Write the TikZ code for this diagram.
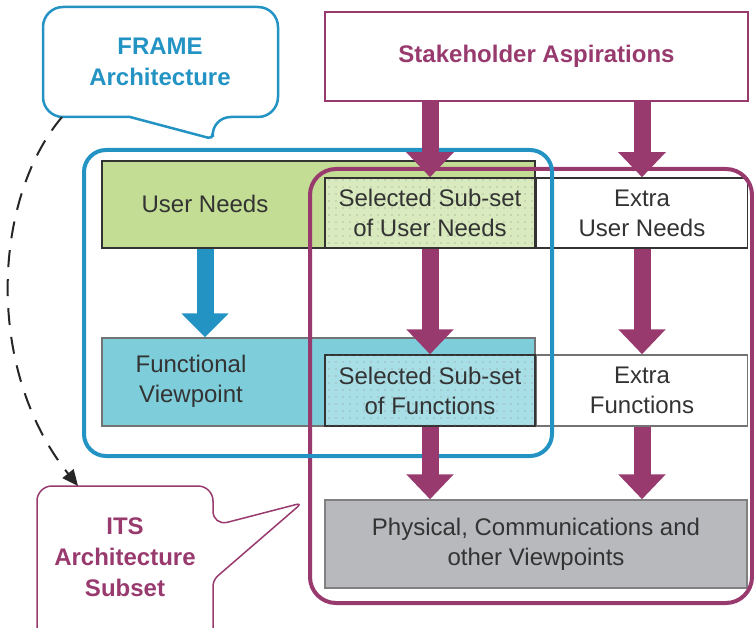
\documentclass[tikz,border=0pt]{standalone}
\usepackage{fontspec}
\setmainfont{Liberation Sans}
\usetikzlibrary{calc,positioning,arrows.meta,patterns.meta}
\definecolor{itsmag}{RGB}{152,58,110}
\definecolor{frameblue}{RGB}{35,147,196}
\definecolor{needgreen}{RGB}{195,221,148}
\definecolor{selgreen}{RGB}{216,234,190}
\definecolor{funcyan}{RGB}{126,205,218}
\definecolor{selcyan}{RGB}{168,222,230}
\definecolor{physgray}{RGB}{184,185,189}
\definecolor{txtgray}{RGB}{51,51,51}
\newcommand{\bigdown}[2]{\draw[magarrow] (#1) -- (#2)}

\tikzset{
  box/.style={rectangle, inner sep=0pt, draw=txtgray, line width=1.5pt, text=txtgray,
    font=\fontsize{24}{30}\selectfont, align=center},
  selbox/.style={box, postaction={pattern={Dots[distance=7pt,radius=0.55pt]}, pattern color=black!45}},
  boxtext/.style={text=txtgray, font=\fontsize{24}{30}\selectfont, align=center},
  calltext/.style={font=\bfseries\fontsize{24}{31}\selectfont, align=center},
  magarrow/.style={itsmag, line width=17pt, -{Triangle[width=46pt,length=25pt]}},
  bluearrow/.style={frameblue, line width=17pt, -{Triangle[width=46pt,length=24pt]}},
  dasharrow/.style={black!85, line width=2pt, dash pattern=on 17pt off 12pt,
    -{Triangle[length=16pt,width=14pt]}}
}

\begin{document}
\begin{tikzpicture}[x=1pt, y=-1pt]
  \useasboundingbox (0,0) rectangle (754,628);
  \clip (0,0) rectangle (754,628);

  \node[box, draw=itsmag, line width=1.5pt, text=itsmag, font=\bfseries\fontsize{24}{30}\selectfont,
    minimum width=423pt, minimum height=89pt] (stake) at (536.5,56.5) {Stakeholder Aspirations};

  \node[box, fill=needgreen, minimum width=433pt, minimum height=87pt] (usr) at (318.5,204.5) {};
  \node[boxtext] (usrtxt) at (205,204) {User Needs};
  \node[selbox, fill=selgreen, minimum width=210pt, minimum height=70pt] (sel1) at (430,213)
    {Selected Sub-set\\of User Needs};
  \node[box, fill=white, minimum width=211pt, minimum height=70pt, right=0pt of sel1] (ext1)
    {Extra\\User Needs};

  \node[box, fill=funcyan, draw=black!55, minimum width=433pt, minimum height=88pt] (fun) at (318.5,382) {};
  \node[boxtext] (funtxt) at (191,381) {Functional\\Viewpoint};
  \node[selbox, fill=selcyan, minimum width=210pt, minimum height=71pt] (sel2) at (430,390.5)
    {Selected Sub-set\\of Functions};
  \node[box, fill=white, draw=black!55, minimum width=211pt, minimum height=71pt, right=0pt of sel2] (ext2)
    {Extra\\Functions};

  \node[box, fill=physgray, draw=black!50, minimum width=422pt, minimum height=88pt] (phys) at (536,544)
    {Physical, Communications and\\other Viewpoints};

  % subset frames
  \draw[itsmag, line width=4pt, rounded corners=26pt] (310,169) rectangle (752,603);
  \draw[frameblue, line width=4pt, rounded corners=22pt] (84,150) rectangle (552,456);

  \bigdown{stake.south -| sel1.north}{sel1.north};
  \bigdown{stake.south -| ext1.north}{ext1.north};
  \bigdown{sel1.south}{sel2.north};
  \bigdown{ext1.south}{ext2.north};
  \bigdown{sel2.south}{sel2.south |- phys.north};
  \bigdown{ext2.south}{ext2.south |- phys.north};
  \draw[bluearrow] (usrtxt |- usr.south) -- (usrtxt |- fun.north);

  % callouts
  \draw[frameblue, line width=2.5pt] (100,117) [rounded corners=20pt] -- (43,117) -- (43,7) -- (278,7)
    -- (278,117) -- (211,117) [rounded corners=5pt] -- (213,139) [sharp corners] -- (130,117) -- cycle;
  \node[calltext, text=frameblue] (frame) at (160,62) {FRAME\\Architecture};

  \draw[itsmag, line width=1.5pt] (37,650) [rounded corners=15pt] -- (37,486) -- (213,486)
    -- (213,526) [rounded corners=6pt] -- (302,503) -- (213,580) -- (213,650);
  \node[calltext, text=itsmag] (its) at (125,557) {ITS\\Architecture\\Subset};

  \coordinate (fstart) at (62,117);
  \coordinate (iend) at (78,486);
  \draw[dasharrow] (fstart) .. controls (-8,200) and (-15,370) .. (iend);
\end{tikzpicture}
\end{document}
